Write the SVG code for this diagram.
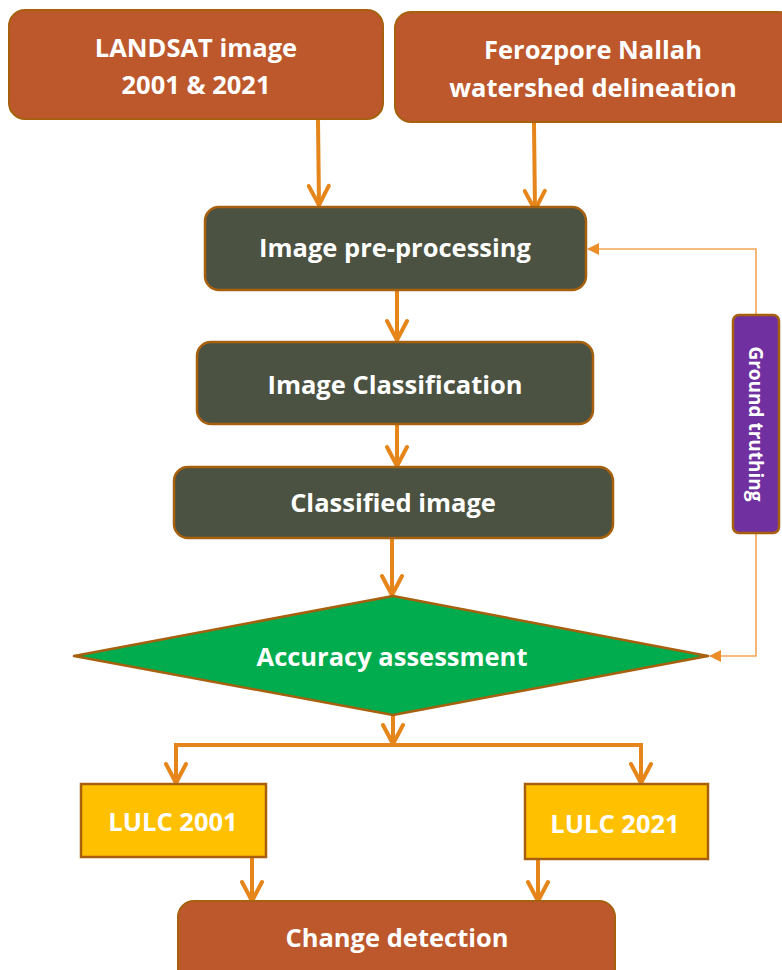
<svg xmlns="http://www.w3.org/2000/svg" width="782" height="970" viewBox="0 0 782 970">
<defs>
<marker id="chev" viewBox="0 0 24 24" refX="22" refY="12" markerWidth="24" markerHeight="24" markerUnits="userSpaceOnUse" orient="auto">
<path d="M3,2 L22,12 L3,22" fill="none" stroke="#E5851A" stroke-width="4" stroke-linecap="round" stroke-linejoin="round"/>
</marker>
<marker id="tri" viewBox="0 0 12 12" refX="11" refY="6" markerWidth="12" markerHeight="12" markerUnits="userSpaceOnUse" orient="auto">
<path d="M0,0 L12,6 L0,12 Z" fill="#EE8E2A"/>
</marker>
</defs>
<style>
text{font-family:"Open Sans","Liberation Sans",sans-serif;font-weight:bold;fill:#FFFFFF;text-anchor:middle;dominant-baseline:central}
.big{font-size:25.5px}
.brown{fill:#BD582C;stroke:#A6600E;stroke-width:2}
.olive{fill:#4B5241;stroke:#A6600E;stroke-width:2.5}
.yel{fill:#FFC000;stroke:#A6600E;stroke-width:2.5}
.thick{fill:none;stroke:#E5851A;stroke-width:4}
.thin{fill:none;stroke:#F2A65A;stroke-width:1.6}
</style>
<rect width="782" height="970" fill="#FFFFFF"/>
<g id="connectors">
<path class="thick" d="M318,120 L319,205" marker-end="url(#chev)"/>
<path class="thick" d="M534,123 L535,210" marker-end="url(#chev)"/>
<path class="thick" d="M397,291 L397,340" marker-end="url(#chev)"/>
<path class="thick" d="M397,425 L397,466" marker-end="url(#chev)"/>
<path class="thick" d="M392,539 L392,595" marker-end="url(#chev)"/>
<path class="thick" d="M393,716 L393,744" marker-end="url(#chev)"/>
<path class="thick" d="M176,783 L176,745 L641,745 L641,783"/>
<path class="thick" d="M176,760 L176,783" marker-end="url(#chev)"/>
<path class="thick" d="M641,760 L641,783" marker-end="url(#chev)"/>
<path class="thick" d="M252,858 L252,901" marker-end="url(#chev)"/>
<path class="thick" d="M538,860 L538,901" marker-end="url(#chev)"/>
<path class="thin" d="M756,315 L756,249 L588,249" marker-end="url(#tri)"/>
<path class="thin" d="M756,533 L756,656 L710,656" marker-end="url(#tri)"/>
</g>
<g id="landsat">
<rect class="brown" x="9" y="10" width="374" height="109" rx="16"/>
<text class="big" x="196" y="47">LANDSAT image</text>
<text class="big" x="196" y="84">2001 &amp; 2021</text>
</g>
<g id="ferozpore">
<rect class="brown" x="395" y="12" width="400" height="110" rx="16"/>
<text class="big" x="593" y="49">Ferozpore Nallah</text>
<text class="big" x="593" y="87">watershed delineation</text>
</g>
<g id="preprocessing">
<rect class="olive" x="205" y="207" width="381" height="83" rx="14"/>
<text class="big" x="395" y="247">Image pre-processing</text>
</g>
<g id="classification">
<rect class="olive" x="197" y="342" width="396" height="82" rx="14"/>
<text class="big" x="395" y="384">Image Classification</text>
</g>
<g id="classified">
<rect class="olive" x="174" y="467" width="439" height="71" rx="14"/>
<text class="big" x="393" y="502">Classified image</text>
</g>
<g id="accuracy">
<polygon points="74,656 393,596 708,656 393,715" fill="#00AC4E" stroke="#A6600E" stroke-width="2.5" stroke-linejoin="round"/>
<text class="big" x="392" y="656">Accuracy assessment</text>
</g>
<g id="ground">
<rect x="733" y="315" width="46" height="218" rx="6" fill="#7030A0" stroke="#A6600E" stroke-width="2.5"/>
<text x="756" y="424" font-size="19" transform="rotate(90 756 424)">Ground truthing</text>
</g>
<g id="lulc2001">
<rect class="yel" x="81" y="784" width="185" height="73"/>
<text class="big" x="173" y="821">LULC 2001</text>
</g>
<g id="lulc2021">
<rect class="yel" x="525" y="784" width="183" height="75"/>
<text class="big" x="615" y="823">LULC 2021</text>
</g>
<g id="change">
<rect class="brown" x="178" y="901" width="437" height="90" rx="16"/>
<text class="big" x="397" y="937">Change detection</text>
</g>
</svg>
